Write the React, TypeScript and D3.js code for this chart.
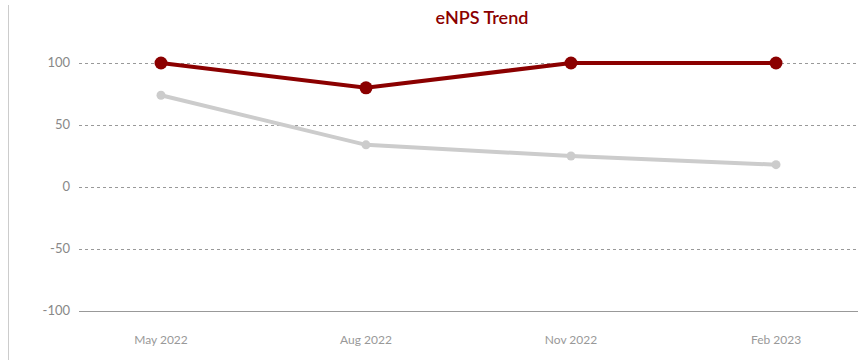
import React from "react";
import * as d3 from "d3";

const categories = ["May 2022", "Aug 2022", "Nov 2022", "Feb 2023"];
const companyValues = [100, 80, 100, 100];
const benchmarkValues = [74, 34, 25, 18];
const yTicks = [-100, -50, 0, 50, 100];
const title = "eNPS Trend";

const W = 861;
const H = 360;
const FONT = "Lato, 'Open Sans', sans-serif";

export default function App() {
  const x = d3.scalePoint<string>().domain(categories).range([79, 858]).padding(0.4);
  const y = d3.scaleLinear().domain([-100, 100]).range([311, 63]);
  const line = d3
    .line<number>()
    .x((_, i) => x(categories[i]) as number)
    .y((d) => y(d));

  return (
    <svg
      width={W}
      height={H}
      style={{ position: "fixed", left: 0, top: 0, background: "#fff" }}
      fontFamily={FONT}
    >
      <line x1={8.5} x2={8.5} y1={5} y2={H} stroke="#cccccc" strokeWidth={1} />
      <text x={482} y={24} textAnchor="middle" fontSize={18} fontWeight={600} fill="#8b0000">
        {title}
      </text>
      {yTicks.map((t) => (
        <g key={t}>
          <line
            x1={79}
            x2={858}
            y1={Math.round(y(t)) + 0.5}
            y2={Math.round(y(t)) + 0.5}
            stroke="#999"
            strokeDasharray={t === -100 ? undefined : "3,3"}
            strokeWidth={1}
          />
          <text x={70} y={y(t) + 4} textAnchor="end" fontSize={13} fill="#888">
            {t}
          </text>
        </g>
      ))}
      {categories.map((c) => (
        <text key={c} x={x(c)} y={344} textAnchor="middle" fontSize={12} fill="#999">
          {c}
        </text>
      ))}
      <path d={line(benchmarkValues) || ""} fill="none" stroke="#cccccc" strokeWidth={4} />
      {benchmarkValues.map((v, i) => (
        <circle key={i} cx={x(categories[i])} cy={y(v)} r={4.5} fill="#cccccc" />
      ))}
      <path d={line(companyValues) || ""} fill="none" stroke="#8b0000" strokeWidth={4} />
      {companyValues.map((v, i) => (
        <circle key={i} cx={x(categories[i])} cy={y(v)} r={6.5} fill="#8b0000" />
      ))}
    </svg>
  );
}
